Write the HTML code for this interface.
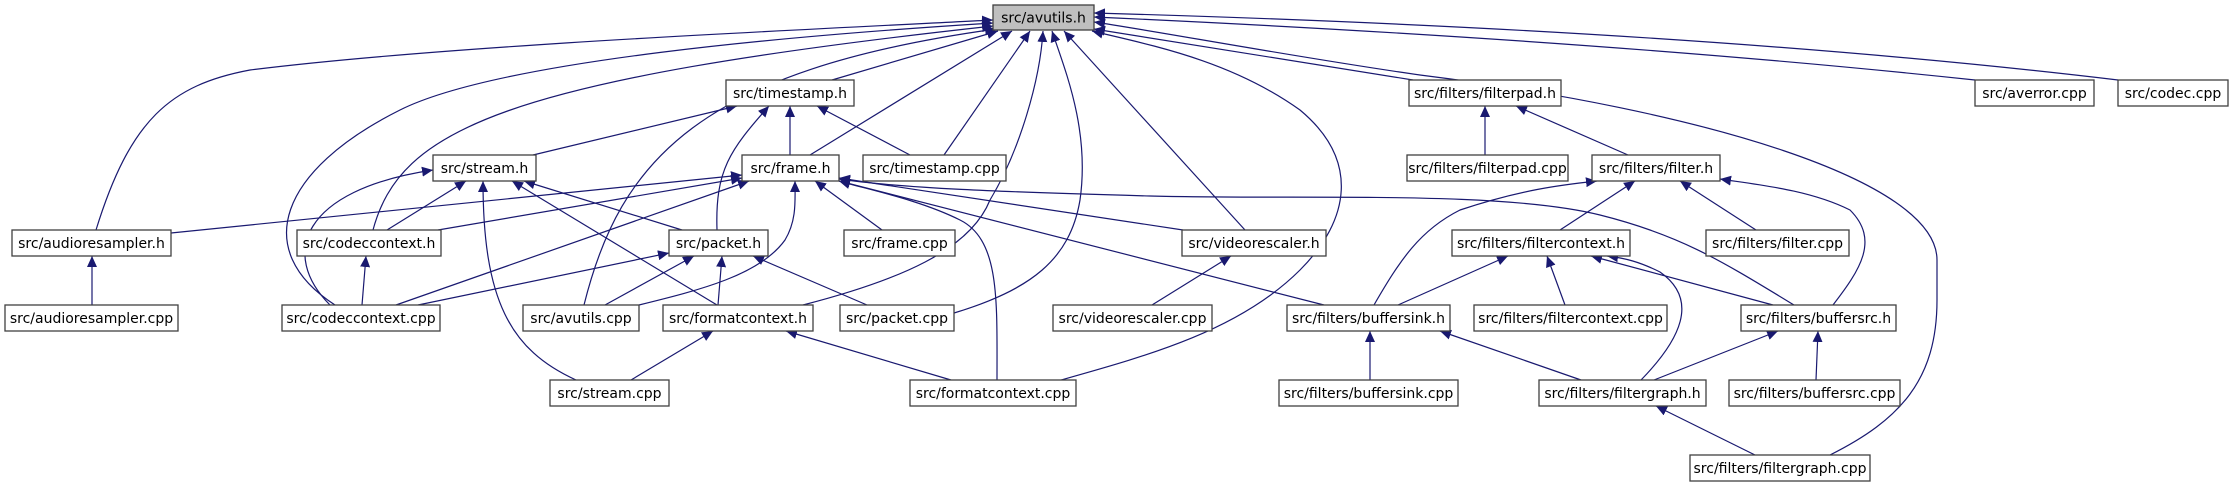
<!DOCTYPE html>
<html><head><meta charset="utf-8"><style>
html,body{margin:0;padding:0;background:#fff;}
svg{display:block;}
text{font-family:"DejaVu Sans","Liberation Sans",sans-serif;font-size:14px;fill:#000;}
.n{fill:#fff;stroke:#404040;stroke-width:1.3;}
.e{fill:none;stroke:#191970;stroke-width:1.2;}
</style></head><body>
<svg width="2234" height="485" viewBox="0 0 2234 485" xmlns="http://www.w3.org/2000/svg">
<defs><marker id="a" markerUnits="userSpaceOnUse" markerWidth="12" markerHeight="10" refX="11" refY="5" orient="auto"><path d="M0,0 L11,5 L0,10 Z" fill="#191970"/></marker></defs>
<g class="e" marker-end="url(#a)">
<!-- to avutils.h -->
<path d="M96,230 C130,120 170,85 250,70 C450,45 800,30 993,20"/>
<path d="M335,305 C250,250 280,170 400,110 C500,60 800,35 993,23"/>
<path d="M373,230 C400,130 500,80 993,26"/>
<path d="M584,305 C620,160 700,70 996,29"/>
<path d="M832,80 L998,31"/>
<path d="M810,155 L1012,31"/>
<path d="M944,155 L1030,31"/>
<path d="M803,305 C900,280 970,250 990,200 C1020,150 1040,80 1043,31"/>
<path d="M954,313 C1030,290 1070,260 1080,200 C1090,130 1065,70 1052,31"/>
<path d="M1245,230 L1064,31"/>
<path d="M1061,380 C1150,355 1240,330 1300,270 C1350,220 1360,160 1300,110 C1230,60 1150,45 1092,31"/>
<path d="M1413,80 L1094,29"/>
<path d="M1830,455 C1900,420 1937,380 1937,300 L1937,260 C1937,180 1700,110 1420,75 C1300,58 1150,30 1094,22"/>
<path d="M1975,80 Q1600,40 1094,17"/>
<path d="M2118,80 Q1700,30 1094,13"/>
<!-- timestamp.h -->
<path d="M533,155 L737,106"/>
<path d="M790,155 L790,106"/>
<path d="M910,155 L817,106"/>
<path d="M717,230 C715,170 730,150 769,106"/>
<!-- stream.h -->
<path d="M387,230 L466,181"/>
<path d="M682,230 L524,181"/>
<path d="M717,305 L512,181"/>
<path d="M576,380 C510,350 483,300 483,181"/>
<path d="M330,305 C280,255 300,190 433,170"/>
<!-- frame.h -->
<path d="M171,233 L742,175"/>
<path d="M438,230 L742,178"/>
<path d="M396,305 L749,181"/>
<path d="M882,230 L815,181"/>
<path d="M1183,230 L839,178"/>
<path d="M1324,305 L839,181"/>
<path d="M1794,305 C1720,260 1680,235 1600,215 C1500,190 1300,200 1150,196 C1000,192 900,188 839,179"/>
<path d="M639,305 C700,290 760,275 785,240 C797,220 795,200 795,181"/>
<path d="M997,380 C997,300 1000,240 960,220 C920,200 870,190 839,181"/>
<!-- packet.h -->
<path d="M418,305 L669,253"/>
<path d="M605,305 L694,256"/>
<path d="M718,305 L722,256"/>
<path d="M867,305 L753,256"/>
<!-- formatcontext.h -->
<path d="M631,380 L713,331"/>
<path d="M951,380 L786,331"/>
<!-- misc -->
<path d="M362,305 L366,256"/>
<path d="M92,305 L92,256"/>
<path d="M1152,305 L1231,256"/>
<!-- filters -->
<path d="M1485,155 L1485,106"/>
<path d="M1628,155 L1516,106"/>
<path d="M1560,230 L1635,181"/>
<path d="M1756,230 L1680,181"/>
<path d="M1833,305 C1860,270 1880,240 1850,210 C1810,190 1760,185 1720,179"/>
<path d="M1374,305 C1400,260 1420,230 1460,210 C1520,190 1560,185 1597,181"/>
<path d="M1398,305 L1508,256"/>
<path d="M1565,305 L1547,256"/>
<path d="M1773,305 L1591,256"/>
<path d="M1641,380 C1680,340 1700,300 1660,272 C1640,262 1625,258 1607,256"/>
<path d="M1370,380 L1370,331"/>
<path d="M1581,380 L1440,331"/>
<path d="M1654,380 L1778,331"/>
<path d="M1816,380 L1818,331"/>
<path d="M1755,455 L1656,406"/>
</g>
<g>
<rect x="993" y="5" width="101" height="25" fill="#bfbfbf" stroke="#404040" stroke-width="1.3"/><text x="1043.5" y="22.5" text-anchor="middle">src/avutils.h</text>
<rect class="n" x="726" y="80" width="128" height="26"/><text x="790" y="98" text-anchor="middle">src/timestamp.h</text>
<rect class="n" x="1409" y="80" width="152" height="26"/><text x="1485" y="98" text-anchor="middle">src/filters/filterpad.h</text>
<rect class="n" x="1975" y="80" width="119" height="26"/><text x="2034.5" y="98" text-anchor="middle">src/averror.cpp</text>
<rect class="n" x="2118" y="80" width="110" height="26"/><text x="2173" y="98" text-anchor="middle">src/codec.cpp</text>
<rect class="n" x="433" y="155" width="103" height="26"/><text x="484.5" y="173" text-anchor="middle">src/stream.h</text>
<rect class="n" x="742" y="155" width="97" height="26"/><text x="790.5" y="173" text-anchor="middle">src/frame.h</text>
<rect class="n" x="863" y="155" width="143" height="26"/><text x="934.5" y="173" text-anchor="middle">src/timestamp.cpp</text>
<rect class="n" x="1407" y="155" width="161" height="26"/><text x="1487.5" y="173" text-anchor="middle">src/filters/filterpad.cpp</text>
<rect class="n" x="1592" y="155" width="128" height="26"/><text x="1656" y="173" text-anchor="middle">src/filters/filter.h</text>
<rect class="n" x="12" y="230" width="159" height="26"/><text x="91.5" y="248" text-anchor="middle">src/audioresampler.h</text>
<rect class="n" x="297" y="230" width="144" height="26"/><text x="369" y="248" text-anchor="middle">src/codeccontext.h</text>
<rect class="n" x="669" y="230" width="99" height="26"/><text x="718.5" y="248" text-anchor="middle">src/packet.h</text>
<rect class="n" x="844" y="230" width="111" height="26"/><text x="899.5" y="248" text-anchor="middle">src/frame.cpp</text>
<rect class="n" x="1182" y="230" width="144" height="26"/><text x="1254" y="248" text-anchor="middle">src/videorescaler.h</text>
<rect class="n" x="1452" y="230" width="178" height="26"/><text x="1541" y="248" text-anchor="middle">src/filters/filtercontext.h</text>
<rect class="n" x="1706" y="230" width="143" height="26"/><text x="1777.5" y="248" text-anchor="middle">src/filters/filter.cpp</text>
<rect class="n" x="5" y="305" width="173" height="26"/><text x="91.5" y="323" text-anchor="middle">src/audioresampler.cpp</text>
<rect class="n" x="282" y="305" width="158" height="26"/><text x="361" y="323" text-anchor="middle">src/codeccontext.cpp</text>
<rect class="n" x="523" y="305" width="116" height="26"/><text x="581" y="323" text-anchor="middle">src/avutils.cpp</text>
<rect class="n" x="663" y="305" width="150" height="26"/><text x="738" y="323" text-anchor="middle">src/formatcontext.h</text>
<rect class="n" x="840" y="305" width="114" height="26"/><text x="897" y="323" text-anchor="middle">src/packet.cpp</text>
<rect class="n" x="1053" y="305" width="159" height="26"/><text x="1132.5" y="323" text-anchor="middle">src/videorescaler.cpp</text>
<rect class="n" x="1287" y="305" width="163" height="26"/><text x="1368.5" y="323" text-anchor="middle">src/filters/buffersink.h</text>
<rect class="n" x="1474" y="305" width="193" height="26"/><text x="1570.5" y="323" text-anchor="middle">src/filters/filtercontext.cpp</text>
<rect class="n" x="1741" y="305" width="155" height="26"/><text x="1818.5" y="323" text-anchor="middle">src/filters/buffersrc.h</text>
<rect class="n" x="550" y="380" width="119" height="26"/><text x="609.5" y="398" text-anchor="middle">src/stream.cpp</text>
<rect class="n" x="910" y="380" width="166" height="26"/><text x="993" y="398" text-anchor="middle">src/formatcontext.cpp</text>
<rect class="n" x="1279" y="380" width="179" height="26"/><text x="1368.5" y="398" text-anchor="middle">src/filters/buffersink.cpp</text>
<rect class="n" x="1539" y="380" width="167" height="26"/><text x="1622.5" y="398" text-anchor="middle">src/filters/filtergraph.h</text>
<rect class="n" x="1729" y="380" width="171" height="26"/><text x="1814.5" y="398" text-anchor="middle">src/filters/buffersrc.cpp</text>
<rect class="n" x="1690" y="455" width="180" height="26"/><text x="1780" y="473" text-anchor="middle">src/filters/filtergraph.cpp</text>
</g>
</svg>
</body></html>
